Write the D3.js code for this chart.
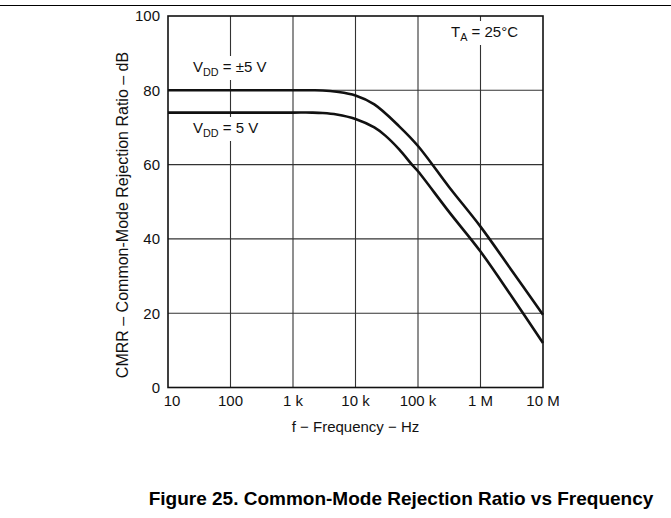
<!DOCTYPE html>
<html>
<head>
<meta charset="utf-8">
<script src="https://cdn.jsdelivr.net/npm/d3@7"></script>
<style>
  body { margin: 0; background: #fff; }
  svg { display: block; font-family: "Liberation Sans", Arial, Helvetica, sans-serif; }
</style>
</head>
<body>
<svg id="chart" width="671" height="518"></svg>
<script>
// ---- data ----
const xTickValues = [10, 100, 1000, 10000, 100000, 1000000, 10000000];
const xTickLabels = ["10", "100", "1 k", "10 k", "100 k", "1 M", "10 M"];
const yTickValues = [0, 20, 40, 60, 80, 100];

const freqUpper = [10, 100, 1000, 2000, 3000, 5000, 10000, 20000, 50000, 100000, 316000, 1000000, 3160000, 10000000];
const cmrrUpper = [80, 80, 80, 80, 79.95, 79.6, 78.6, 76.2, 70.3, 65, 53.9, 43.3, 31.5, 19.6];

const freqLower = [10, 100, 1000, 2000, 3000, 5000, 10000, 20000, 30000, 50000, 80000, 100000, 316000, 1000000, 3160000, 10000000];
const cmrrLower = [74, 74, 74, 74, 73.9, 73.5, 72.3, 70, 67.8, 64.1, 60, 58.2, 47.2, 36.6, 24.5, 12];

const seriesLabels = ["±5 V", "5 V"];
const xAxisTitle = "f − Frequency − Hz";
const yAxisTitle = "CMRR – Common-Mode Rejection Ratio – dB";
const figureTitle = "Figure 25. Common-Mode Rejection Ratio vs Frequency";

// ---- layout ----
const svg = d3.select("#chart");
const L = 168, R = 543, T = 16, B = 387.5;
const x = d3.scaleLog().domain([10, 1e7]).range([L, R]);
const y = d3.scaleLinear().domain([0, 100]).range([B, T]);
const FONT = 15;

// top rule
svg.append("line").attr("x1", 0).attr("x2", 671).attr("y1", 5.5).attr("y2", 5.5)
  .attr("stroke", "#000").attr("stroke-width", 1.2);

// grid
const g = svg.append("g");
g.selectAll("line.vg").data(xTickValues.slice(1, -1)).enter().append("line")
  .attr("x1", d => x(d)).attr("x2", d => x(d)).attr("y1", T).attr("y2", B)
  .attr("stroke", "#333").attr("stroke-width", 1.1);
g.selectAll("line.hg").data(yTickValues.slice(1, -1)).enter().append("line")
  .attr("x1", L).attr("x2", R).attr("y1", d => y(d)).attr("y2", d => y(d))
  .attr("stroke", "#333").attr("stroke-width", 1.1);

// curves
const line = d3.line().x(d => x(d[0])).y(d => y(d[1])).curve(d3.curveCatmullRom.alpha(0.5));
const upper = freqUpper.map((f, i) => [f, cmrrUpper[i]]);
const lower = freqLower.map((f, i) => [f, cmrrLower[i]]);
[upper, lower].forEach(s => {
  svg.append("path").attr("d", line(s)).attr("fill", "none")
    .attr("stroke", "#111").attr("stroke-width", 2.6);
});

// labels with white background
function labelWithBg(xp, yp, main, sub, rest) {
  const grp = svg.append("g");
  const t = grp.append("text").attr("x", xp).attr("y", yp).attr("font-size", FONT).attr("fill", "#111");
  t.append("tspan").text(main);
  t.append("tspan").attr("font-size", FONT * 0.72).attr("dy", 4).text(sub);
  t.append("tspan").attr("dy", -4).text(rest);
  const bb = t.node().getBBox();
  grp.insert("rect", "text").attr("x", bb.x - 3).attr("y", bb.y - 2)
    .attr("width", bb.width + 6).attr("height", bb.height + 4).attr("fill", "#fff");
}
labelWithBg(193, 72, "V", "DD", " = " + seriesLabels[0]);
labelWithBg(193, 133, "V", "DD", " = " + seriesLabels[1]);
labelWithBg(451, 37, "T", "A", " = 25°C");

// frame
svg.append("rect").attr("x", L).attr("y", T).attr("width", R - L).attr("height", B - T)
  .attr("fill", "none").attr("stroke", "#111").attr("stroke-width", 1.6);

// y tick labels
svg.selectAll("text.yt").data(yTickValues).enter().append("text")
  .attr("x", 160).attr("y", d => y(d)).attr("dy", "0.36em")
  .attr("text-anchor", "end").attr("font-size", FONT).attr("fill", "#111")
  .text(d => d);

// x tick labels
svg.selectAll("text.xt").data(xTickValues).enter().append("text")
  .attr("x", (d, i) => x(d) + (i === 0 ? 4 : 0)).attr("y", 406)
  .attr("text-anchor", "middle").attr("font-size", FONT).attr("fill", "#111")
  .text((d, i) => xTickLabels[i]);

// axis titles
svg.append("text").attr("x", 355.5).attr("y", 432).attr("text-anchor", "middle")
  .attr("font-size", FONT).attr("fill", "#111").text(xAxisTitle);
svg.append("text").attr("transform", "translate(128,215) rotate(-90)")
  .attr("text-anchor", "middle").attr("font-size", 16).attr("fill", "#111").text(yAxisTitle);

// figure title
svg.append("text").attr("x", 401).attr("y", 505).attr("text-anchor", "middle")
  .attr("font-size", 19).attr("font-weight", "bold").attr("fill", "#000").text(figureTitle);
</script>
</body>
</html>
